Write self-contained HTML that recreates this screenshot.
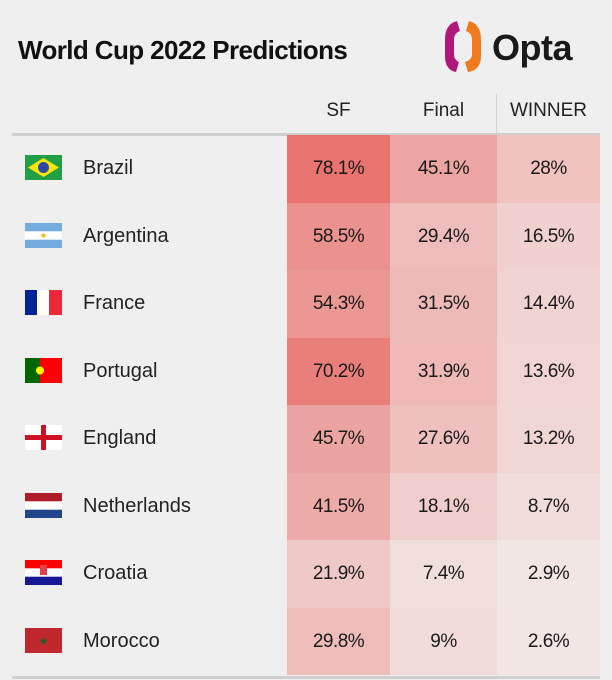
<!DOCTYPE html><html><head><style>
body{margin:0;width:612px;height:680px;background:#efefef;font-family:"Liberation Sans",sans-serif;position:relative;overflow:hidden}
.a{position:absolute}
.t{left:18px;top:35px;font-size:26px;font-weight:bold;color:#111;letter-spacing:-0.6px}
.h{top:100px;font-size:19px;color:#222;text-align:center}
.c{height:67.5px;line-height:67.5px;text-align:center;font-size:19px;color:#1a1a1a;letter-spacing:-0.5px}
.n{left:83px;font-size:20px;color:#222;height:67.5px;line-height:67.5px}
.f{left:25px;width:37px;height:25px}
</style></head><body>
<div class="a t">World Cup 2022 Predictions</div>
<svg class="a" style="left:443px;top:18px" width="150" height="58">
<path d="M14 3 Q2 6 2 22 L2 38 Q2 52 13 54 L16 44 Q11 42 11 36 L11 22 Q11 15 17 13 Z" fill="#b0177a"/>
<path d="M26 3 Q38 6 38 22 L38 38 Q38 52 25 54 L22 44 Q29 42 29 36 L29 22 Q29 15 23 13 Z" fill="#f07a1e"/>
<text x="49" y="42" font-family="Liberation Sans" font-weight="bold" font-size="36" fill="#1a1a1a" letter-spacing="-0.5">Opta</text>
</svg>
<div class="a h" style="left:287px;width:103px">SF</div>
<div class="a h" style="left:390px;width:107px">Final</div>
<div class="a h" style="left:497px;width:103px">WINNER</div>
<div class="a" style="left:496px;top:94px;width:1px;height:41px;background:#d4d4d4"></div>
<div class="a" style="left:12px;top:133px;width:588px;height:3px;background:#cfcfcf"></div>
<div class="a" style="left:12px;top:676px;width:588px;height:3px;background:#cfcfcf"></div>

<div class="a" style="left:287px;top:135px;width:103px">
<div class="c" style="background:rgb(232,115,111)">78.1%</div>
<div class="c" style="background:rgb(235,145,142)">58.5%</div>
<div class="c" style="background:rgb(235,151,148)">54.3%</div>
<div class="c" style="background:rgb(233,127,123)">70.2%</div>
<div class="c" style="background:rgb(236,164,162)">45.7%</div>
<div class="c" style="background:rgb(237,171,168)">41.5%</div>
<div class="c" style="background:rgb(239,201,199)">21.9%</div>
<div class="c" style="background:rgb(238,189,186)">29.8%</div>
</div>
<div class="a" style="left:390px;top:135px;width:107px">
<div class="c" style="background:rgb(236,165,162)">45.1%</div>
<div class="c" style="background:rgb(238,189,187)">29.4%</div>
<div class="c" style="background:rgb(238,186,184)">31.5%</div>
<div class="c" style="background:rgb(238,185,183)">31.9%</div>
<div class="c" style="background:rgb(239,192,190)">27.6%</div>
<div class="c" style="background:rgb(240,206,205)">18.1%</div>
<div class="c" style="background:rgb(241,223,221)">7.4%</div>
<div class="c" style="background:rgb(241,220,219)">9%</div>
</div>
<div class="a" style="left:497px;top:135px;width:103px">
<div class="c" style="background:rgb(241,194,190)">28%</div>
<div class="c" style="background:rgb(240,209,207)">16.5%</div>
<div class="c" style="background:rgb(240,212,211)">14.4%</div>
<div class="c" style="background:rgb(240,213,212)">13.6%</div>
<div class="c" style="background:rgb(240,214,212)">13.2%</div>
<div class="c" style="background:rgb(241,221,219)">8.7%</div>
<div class="c" style="background:rgb(242,230,228)">2.9%</div>
<div class="c" style="background:rgb(242,230,229)">2.6%</div>
</div>

<div class="a n" style="top:135px">Brazil</div>
<div class="a n" style="top:202.5px">Argentina</div>
<div class="a n" style="top:270px">France</div>
<div class="a n" style="top:337.5px">Portugal</div>
<div class="a n" style="top:405px">England</div>
<div class="a n" style="top:472.5px">Netherlands</div>
<div class="a n" style="top:540px">Croatia</div>
<div class="a n" style="top:607.5px">Morocco</div>

<svg class="a f" style="top:155px" viewBox="0 0 37 25"><rect width="37" height="25" fill="#229e45"/><polygon points="18.5,3 34,12.5 18.5,22 3,12.5" fill="#f8e509"/><circle cx="18.5" cy="12.5" r="5.5" fill="#2b49a3"/></svg>
<svg class="a f" style="top:222.5px" viewBox="0 0 37 25"><rect width="37" height="25" fill="#74acdf"/><rect y="8.3" width="37" height="8.4" fill="#fff"/><circle cx="18.5" cy="12.5" r="2" fill="#f6b40e"/></svg>
<svg class="a f" style="top:290px" viewBox="0 0 37 25"><rect width="13" height="25" fill="#002395"/><rect x="12" width="13" height="25" fill="#fff"/><rect x="24" width="13" height="25" fill="#ed2939"/></svg>
<svg class="a f" style="top:357.5px" viewBox="0 0 37 25"><rect width="37" height="25" fill="#f00"/><rect width="15" height="25" fill="#060"/><circle cx="15" cy="12.5" r="4" fill="#ff0"/></svg>
<svg class="a f" style="top:425px" viewBox="0 0 37 25"><rect width="37" height="25" fill="#fff"/><rect x="16" width="5" height="25" fill="#ce1124"/><rect y="10" width="37" height="5" fill="#ce1124"/></svg>
<svg class="a f" style="top:492.5px" viewBox="0 0 37 25"><rect width="37" height="25" fill="#fff"/><rect width="37" height="8.3" fill="#ae1c28"/><rect y="16.7" width="37" height="8.3" fill="#21468b"/></svg>
<svg class="a f" style="top:560px" viewBox="0 0 37 25"><rect width="37" height="25" fill="#fff"/><rect width="37" height="8.3" fill="#f00"/><rect y="16.7" width="37" height="8.3" fill="#171796"/><rect x="15" y="5" width="7" height="10" fill="#e0404a"/></svg>
<svg class="a f" style="top:627.5px" viewBox="0 0 37 25"><rect width="37" height="25" fill="#c1272d"/><text x="18.5" y="17" font-size="12" text-anchor="middle" fill="#2a5a2a">★</text></svg>
</body></html>
